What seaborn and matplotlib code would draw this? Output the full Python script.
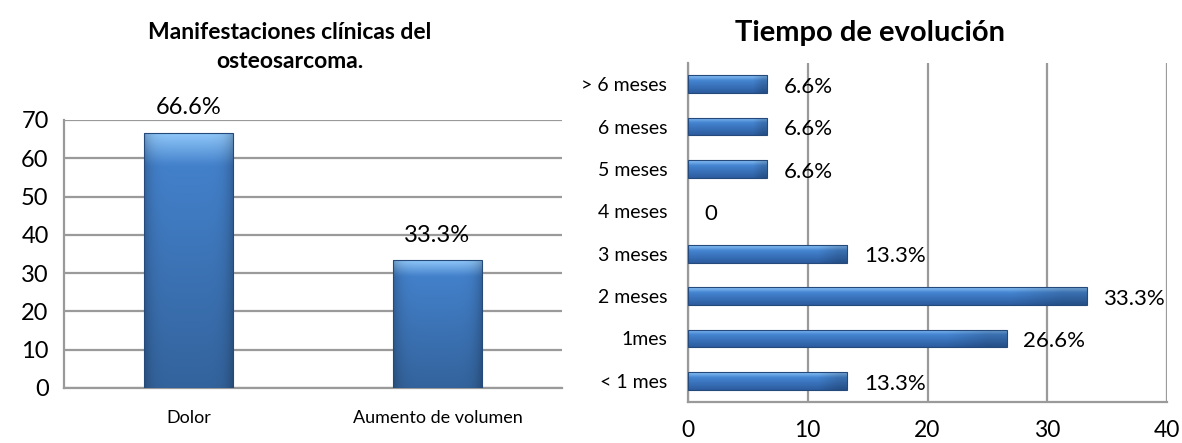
import numpy as np
import pandas as pd
import matplotlib
matplotlib.use("Agg")
import matplotlib.pyplot as plt
import seaborn as sns

# Clinical manifestations
sintomas = ["Dolor", "Aumento de volumen"]
sintomas_pct = [66.6, 33.3]
sintomas_lbl = ["66.6%", "33.3%"]

# Time since onset
tiempos = ["> 6 meses", "6 meses", "5 meses", "4 meses", "3 meses", "2 meses", "1mes", "< 1 mes"]
tiempos_pct = [6.6, 6.6, 6.6, 0, 13.3, 33.3, 26.6, 13.3]
tiempos_lbl = ["6.6%", "6.6%", "6.6%", "0", "13.3%", "33.3%", "26.6%", "13.3%"]

left_ticks = [0, 10, 20, 30, 40, 50, 60, 70]
right_ticks = [0, 10, 20, 30, 40]

sns.set_theme(style="white")
plt.rcParams["font.family"] = ["Lato", "DejaVu Sans"]

GRID = "#9a9a9a"
EDGE = "#24497a"


def shade_bars(ax, horizontal):
    """Replace flat bar fills with a bevelled blue gradient."""
    top = np.array([0.55, 0.77, 0.97])
    mid = np.array([0.27, 0.52, 0.82])
    low = np.array([0.17, 0.36, 0.62])
    for p in list(ax.patches):
        x0, y0 = p.get_x(), p.get_y()
        w, h = p.get_width(), p.get_height()
        if w == 0 or h == 0:
            p.set_visible(False)
            continue
        n = 64
        t = np.linspace(0, 1, n)
        if horizontal:
            # across the bar thickness: light top edge, dark bottom edge
            prof = np.empty((n, 3))
            for i, v in enumerate(t):
                if v < 0.3:
                    prof[i] = top + (mid - top) * (v / 0.3)
                else:
                    prof[i] = mid + (low - mid) * ((v - 0.3) / 0.7)
            img = np.repeat(prof[:, None, :], 8, axis=1)
            side = np.ones((1, 8, 1))
            side[0, -1, 0] = 0.85
            img = np.clip(img * side, 0, 1)
            extent = (x0, x0 + w, y0 + h, y0)
        else:
            vert = mid[None, :] * (1 - 0.25 * t[:, None])
            vert = np.clip(vert + (top - mid)[None, :] * np.clip(0.12 - t[:, None], 0, None) / 0.12, 0, 1)
            horiz = 1 - 0.22 * np.abs(np.linspace(-1, 1, n)) ** 6
            img = vert[:, None, :] * horiz[None, :, None]
            img = img[::-1]
            extent = (x0, x0 + w, y0, y0 + h)
        im = ax.imshow(img, extent=extent, aspect="auto", origin="lower" if not horizontal else "upper",
                       zorder=p.get_zorder(), interpolation="bilinear")
        im.set_clip_path(p)
        p.set_facecolor("none")
        p.set_edgecolor(EDGE)
        p.set_linewidth(0.8)
        p.set_zorder(p.get_zorder() + 0.1)


fig = plt.figure(figsize=(11.82, 4.43), dpi=100)

# ---- Left: clinical manifestations ----
ax1 = fig.add_axes([0.0541, 0.1242, 0.4213, 0.605])
df1 = pd.DataFrame({"sintoma": sintomas, "pct": sintomas_pct})
sns.barplot(data=df1, x="sintoma", y="pct", ax=ax1, width=0.357, color="#3f7cc8", zorder=3)
ax1.set_xlim(-0.5, 1.5)
ax1.set_ylim(0, 70)
ax1.set_yticks(left_ticks)
ax1.yaxis.grid(True, color=GRID, linewidth=1.6, zorder=0)
ax1.set_axisbelow(True)
ax1.set_xlabel("")
ax1.set_ylabel("")
for s in ["top", "right"]:
    ax1.spines[s].set_visible(False)
for s in ["left", "bottom"]:
    ax1.spines[s].set_color(GRID)
    ax1.spines[s].set_linewidth(1.6)
ax1.tick_params(axis="y", labelsize=17, pad=11, length=0, colors="black")
ax1.tick_params(axis="x", labelsize=13, pad=16, length=0, colors="black")
shade_bars(ax1, horizontal=False)
for i, (v, lab) in enumerate(zip(sintomas_pct, sintomas_lbl)):
    ax1.annotate(lab, (i, v), xytext=(0, 18), textcoords="offset points",
                 ha="center", va="center", fontsize=17, color="black")

fig.text(0.245, 0.894, "Manifestaciones clínicas del\nosteosarcoma.", ha="center", va="center",
         fontsize=16.5, fontweight="bold", linespacing=1.45, color="black")

# ---- Right: time since onset ----
ax2 = fig.add_axes([0.5821, 0.0926, 0.4052, 0.7652])
df2 = pd.DataFrame({"tiempo": tiempos, "pct": tiempos_pct})
sns.barplot(data=df2, y="tiempo", x="pct", ax=ax2, orient="h", width=0.42, color="#3f7cc8", zorder=3)
ax2.set_xlim(0, 40)
ax2.set_ylim(len(tiempos) - 0.5, -0.5)
ax2.set_xticks(right_ticks)
ax2.xaxis.grid(True, color=GRID, linewidth=1.6, zorder=0)
ax2.set_axisbelow(True)
ax2.set_xlabel("")
ax2.set_ylabel("")
ax2.spines["top"].set_visible(False)
ax2.spines["right"].set_visible(False)
for s in ["left", "bottom"]:
    ax2.spines[s].set_color(GRID)
    ax2.spines[s].set_linewidth(1.6)
ax2.tick_params(axis="y", labelsize=14, pad=15, length=0, colors="black")
ax2.tick_params(axis="x", labelsize=16.5, pad=13, length=0, colors="black")
shade_bars(ax2, horizontal=True)
for i, (v, lab) in enumerate(zip(tiempos_pct, tiempos_lbl)):
    ax2.annotate(lab, (v, i), xytext=(12, -2), textcoords="offset points",
                 ha="left", va="center", fontsize=16, color="black")

fig.text(0.736, 0.925, "Tiempo de evolución", ha="center", va="center",
         fontsize=21, fontweight="bold", color="black")

fig.savefig("out.png", dpi=100, facecolor="white")
